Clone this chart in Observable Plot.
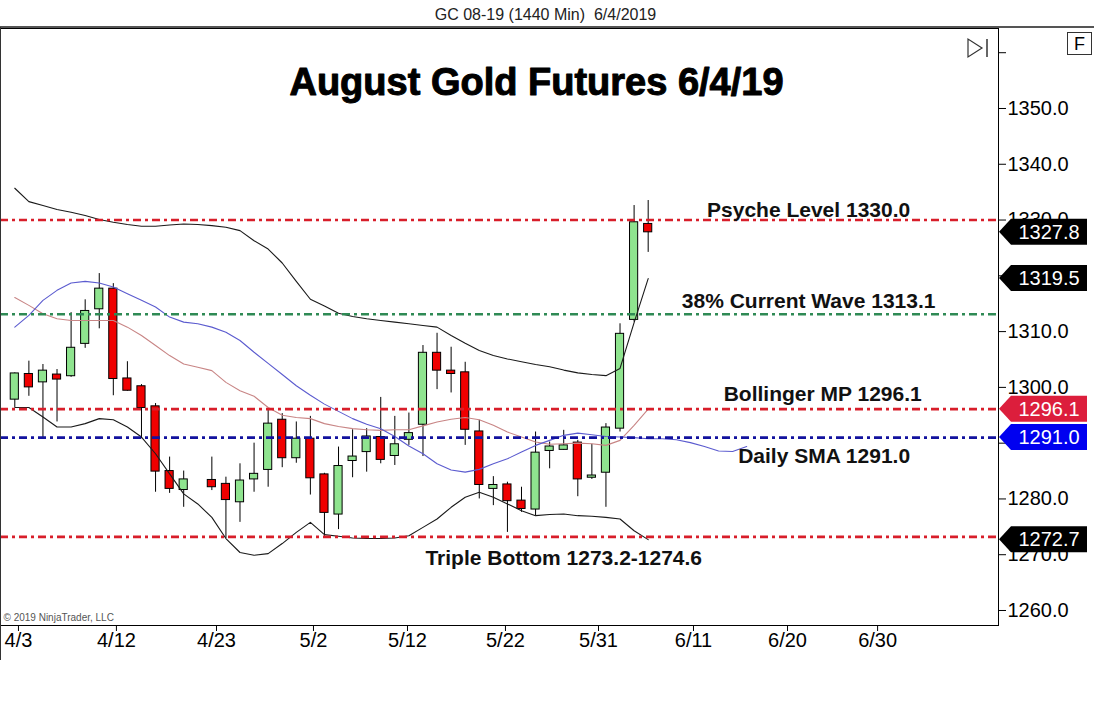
<!DOCTYPE html>
<html><head><meta charset="utf-8">
<script src="https://cdn.jsdelivr.net/npm/d3@7"></script>
<script src="https://cdn.jsdelivr.net/npm/@observablehq/plot@0.6"></script>
<style>
html,body{margin:0;padding:0;background:#fff;}
#chart svg{display:block;}
</style></head><body><div id="chart"></div>
<script>
// ---- data ----
const headerText = "GC 08-19 (1440 Min)  6/4/2019";
const titleText = "August Gold Futures 6/4/19";
const copyrightText = "\u00a9 2019 NinjaTrader, LLC";

// bar slot index (slot 13 is empty), daily OHLC
const barIdx = [0,1,2,3,4,5,6,7,8,9,10,11,12,14,15,16,17,18,19,20,21,22,23,24,25,26,27,28,29,30,31,32,33,34,35,36,37,38,39,40,41,42,43,44,45];
const open  = [1297.8,1302.4,1300.9,1302.3,1302.0,1307.8,1314.0,1317.7,1301.6,1300.2,1296.6,1285.0,1281.6,1283.4,1282.7,1279.4,1283.5,1285.2,1294.2,1287.3,1290.8,1284.4,1277.2,1286.8,1288.4,1291.1,1287.7,1290.6,1293.3,1306.2,1303.0,1302.7,1292.1,1281.8,1282.6,1279.7,1278.1,1288.6,1288.8,1290.1,1283.8,1284.7,1292.6,1312.1,1329.3];
const high  = [1302.6,1304.7,1304.1,1303.2,1313.4,1315.7,1320.4,1318.6,1304.6,1300.5,1297.1,1287.5,1285.0,1287.5,1283.9,1286.3,1290.0,1296.2,1295.3,1293.8,1294.8,1284.6,1289.3,1292.4,1292.6,1298.2,1294.8,1295.4,1307.5,1309.7,1307.2,1304.5,1294.1,1284.0,1283.0,1282.1,1292.0,1290.2,1292.3,1290.5,1289.8,1293.5,1311.4,1332.6,1333.5];
const low   = [1296.4,1298.4,1290.8,1293.8,1301.8,1307.0,1310.5,1298.5,1299.3,1290.8,1281.2,1281.0,1278.5,1281.5,1272.9,1275.8,1281.2,1282.1,1285.6,1286.4,1280.7,1273.3,1274.5,1283.8,1284.8,1286.3,1286.0,1289.6,1287.6,1299.6,1299.0,1289.6,1280.0,1278.8,1274.0,1277.6,1277.0,1285.4,1288.7,1280.4,1283.5,1278.5,1292.0,1311.7,1324.2];
const close = [1302.5,1300.0,1303.0,1301.4,1307.1,1313.7,1317.7,1301.5,1299.4,1296.3,1284.9,1281.8,1283.5,1282.1,1279.8,1283.3,1284.5,1293.5,1287.3,1290.8,1283.7,1277.5,1285.9,1287.6,1291.2,1287.0,1289.8,1291.8,1306.2,1303.0,1302.4,1292.4,1282.5,1282.5,1279.6,1278.2,1288.3,1289.4,1289.6,1283.5,1284.2,1292.8,1309.6,1329.6,1327.8];

// Bollinger bands, one value per slot 0..45
const upperBand = [1335.7,1333.3,1332.6,1331.9,1331.4,1330.8,1330.1,1329.6,1329.2,1328.9,1328.9,1329.1,1329.3,1329.2,1329.0,1328.7,1328.1,1326.3,1324.8,1322.3,1319.0,1315.8,1314.6,1313.3,1312.7,1312.3,1312.0,1311.7,1311.4,1311.1,1310.8,1309.3,1307.9,1306.6,1305.7,1305.1,1304.6,1304.1,1303.7,1303.1,1302.6,1302.3,1302.1,1303.4,1311.6,1319.5];
const midBand   = [1316.1,1314.7,1313.2,1312.3,1312.0,1312.0,1312.0,1312.0,1310.8,1309.3,1307.5,1305.7,1304.2,1303.6,1303.0,1300.9,1299.4,1298.4,1296.4,1295.0,1294.6,1294.4,1293.5,1293.0,1292.6,1292.4,1292.3,1292.4,1292.4,1293.1,1293.8,1294.3,1294.6,1294.2,1293.2,1292.0,1291.1,1290.2,1289.8,1289.9,1290.0,1289.9,1289.6,1290.5,1293.2,1296.1];
const lowerBand = [1296.4,1296.4,1294.7,1292.9,1292.9,1293.5,1294.4,1294.2,1292.9,1291.1,1288.1,1284.5,1280.9,1279.1,1276.7,1272.9,1270.4,1269.9,1270.2,1272.0,1274.0,1275.8,1273.6,1273.3,1273.0,1272.9,1272.9,1273.0,1273.4,1274.9,1276.4,1278.5,1280.3,1281.2,1280.3,1279.1,1277.9,1277.0,1277.2,1277.3,1277.0,1276.9,1276.7,1276.4,1274.3,1272.7];
// displaced daily SMA, slots 0..52
const dailySma  = [1310.8,1312.9,1315.6,1317.4,1318.7,1319.0,1318.7,1318.0,1316.8,1315.6,1314.4,1312.6,1311.7,1311.4,1310.8,1309.9,1308.4,1306.3,1304.3,1302.3,1300.3,1298.6,1297.0,1295.7,1294.4,1293.4,1292.6,1291.2,1289.5,1288.1,1286.3,1285.2,1284.8,1285.3,1286.3,1287.2,1288.4,1289.6,1290.5,1291.4,1291.8,1291.5,1291.2,1291.1,1291.0,1290.8,1290.8,1290.6,1290.1,1289.4,1288.6,1288.5,1289.4];

// horizontal levels and their labels
const levelValues = [1330.0, 1313.1, 1296.1, 1291.0, 1273.2];
const levelNames  = ["Psyche Level 1330.0", "38% Current Wave 1313.1", "Bollinger MP 1296.1", "Daily SMA 1291.0", "Triple Bottom 1273.2-1274.6"];

// right-axis price tags
const tagValues = [1327.8, 1319.5, 1296.1, 1291.0, 1272.7];

// axis ticks (1290 and 1320 are hidden under the price tags in the original)
const yTicks = [1260,1270,1280,1290,1300,1310,1320,1330,1340,1350,1360];
const yTickLabelled = [1260,1270,1280,1300,1310,1330,1340,1350];
const xTickPos = [0.26, 7.22, 14.33, 21.22, 27.9, 34.86, 41.47, 48.22, 54.9, 61.3];
const xTickLabels = ["4/3","4/12","4/23","5/2","5/12","5/22","5/31","6/11","6/20","6/30"];

// ---- build tables ----
const bars = barIdx.map((i, k) => ({i, o: open[k], h: high[k], l: low[k], c: close[k]}));
const upperT = upperBand.map((v, i) => ({i, v}));
const midT = midBand.map((v, i) => ({i, v}));
const lowerT = lowerBand.map((v, i) => ({i, v}));
const smaT = dailySma.map((v, i) => ({i, v}));
const levelColor = ["#d81e2a", "#2f8a55", "#d81e2a", "#12129e", "#d81e2a"];
const levels = levelValues.map((v, k) => ({v, name: levelNames[k], color: levelColor[k]}));
// label placement (slot index, pixel offset from the level)
const labelPlace = [
  {x: 56.4, dy: -10}, {x: 56.4, dy: -13}, {x: 57.4, dy: -15}, {x: 57.5, dy: 19}, {x: 39.0, dy: 21}
];
const labelMarks = levels.map((d, k) =>
  Plot.text([d], {x: () => labelPlace[k].x, y: "v", dy: labelPlace[k].dy, text: "name", fontSize: 21, fontWeight: "bold", fill: "#111", textAnchor: "middle", lineAnchor: "middle"})
);
const xLabelMap = new Map(xTickPos.map((p, k) => [p, xTickLabels[k]]));

const FONT = "'Liberation Sans', Arial, Helvetica, sans-serif";

const chart = Plot.plot({
  width: 1094,
  height: 711,
  marginLeft: 0,
  marginRight: 96,
  marginTop: 28,
  marginBottom: 86,
  style: {fontFamily: FONT, background: "white", color: "black", overflow: "visible"},
  x: {type: "linear", domain: [-1.016, 69.89], axis: null},
  y: {type: "linear", domain: [1257.31, 1364.34], axis: null},
  marks: [
    // candles
    Plot.ruleX(bars, {x: "i", y1: "l", y2: "h", stroke: "black", strokeWidth: 1}),
    Plot.rect(bars, {
      x1: d => d.i - 0.29, x2: d => d.i + 0.29,
      y1: "o", y2: d => (Math.abs(d.c - d.o) < 0.3 ? d.o + (d.c >= d.o ? 0.3 : -0.3) : d.c),
      fill: d => d.c >= d.o ? "#8fe48f" : "#f00000",
      stroke: "black", strokeWidth: 1
    }),
    // indicators
    Plot.line(upperT, {x: "i", y: "v", stroke: "#1a1a1a", strokeWidth: 1.1}),
    Plot.line(lowerT, {x: "i", y: "v", stroke: "#1a1a1a", strokeWidth: 1.1}),
    Plot.line(midT, {x: "i", y: "v", stroke: "#c88585", strokeWidth: 1.1}),
    Plot.line(smaT, {x: "i", y: "v", stroke: "#5b5bcf", strokeWidth: 1.1}),
    // horizontal levels
    Plot.ruleY(levels, {y: "v", stroke: "color", strokeWidth: 2.6, strokeDasharray: "8,4,3,4"}),
    // level labels
    ...labelMarks,
    // frame and axes
    Plot.frame({stroke: "black", strokeWidth: 1}),
    Plot.axisY({anchor: "right", ticks: yTicks, tickFormat: d => yTickLabelled.includes(d) ? d.toFixed(1) : "", tickSize: 7, tickPadding: 2, fontSize: 20, label: null}),
    Plot.axisX({anchor: "bottom", ticks: xTickPos, tickFormat: d => xLabelMap.get(d), tickSize: 6, tickPadding: 1, fontSize: 20, label: null}),
    // title, header, copyright
    Plot.text([titleText], {frameAnchor: "top", dx: 37, dy: 54, fontSize: 38, fontWeight: "bold", fill: "black", stroke: "black", strokeWidth: 1, lineAnchor: "middle"}),
    Plot.text([headerText], {frameAnchor: "top", dx: 46, dy: -14, fontSize: 16, fill: "#222", lineAnchor: "middle"}),
    Plot.text([copyrightText], {frameAnchor: "bottom-left", dx: 3, dy: -8, fontSize: 10, fill: "#555", textAnchor: "start", lineAnchor: "middle"})
  ]
});

// decorations: top border, price tags, chart-panel icons
const svg = d3.select(chart);
const yS = chart.scale("y");
svg.append("line").attr("x1", 0).attr("x2", 1094).attr("y1", 27).attr("y2", 27).attr("stroke", "#555").attr("stroke-width", 2);
svg.append("line").attr("x1", 0.5).attr("x2", 0.5).attr("y1", 27).attr("y2", 660).attr("stroke", "#333");

const tagColor = ["#000000", "#000000", "#dc1e3c", "#0000f0", "#000000"];
tagValues.forEach((v, k) => {
  const yc = yS.apply(v);
  const x0 = 999, x1 = 1011, x2 = 1087, h = 13;
  svg.append("path")
    .attr("d", `M${x0},${yc}L${x1},${yc - h}L${x2},${yc - h}L${x2},${yc + h}L${x1},${yc + h}Z`)
    .attr("fill", tagColor[k]);
  svg.append("text")
    .attr("x", 1049).attr("y", yc).attr("dy", "0.35em")
    .attr("text-anchor", "middle")
    .attr("font-family", FONT).attr("font-size", 20)
    .attr("fill", "white")
    .text(v.toFixed(1));
});

// "F" box
svg.append("rect").attr("x", 1067.5).attr("y", 32.5).attr("width", 24).attr("height", 22).attr("fill", "white").attr("stroke", "#333");
svg.append("text").attr("x", 1079.5).attr("y", 44).attr("dy", "0.35em").attr("text-anchor", "middle").attr("font-family", FONT).attr("font-size", 18).text("F");
// scroll-to-end icon
svg.append("path").attr("d", "M968,39L968,57L982,48Z").attr("fill", "white").attr("stroke", "#333").attr("stroke-width", 1.2);
svg.append("line").attr("x1", 987).attr("x2", 987).attr("y1", 39).attr("y2", 57).attr("stroke", "#333").attr("stroke-width", 1.5);

document.getElementById("chart").append(chart);
</script>
</body></html>
